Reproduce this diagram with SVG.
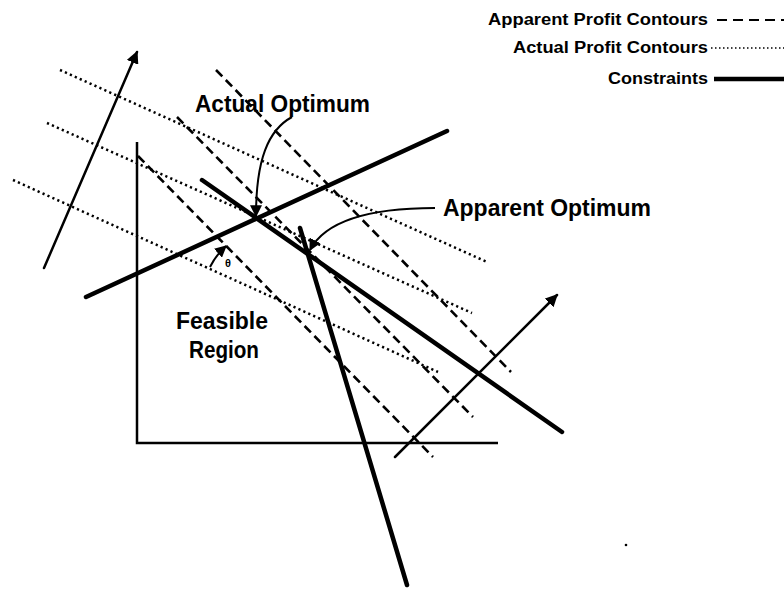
<svg xmlns="http://www.w3.org/2000/svg" width="784" height="589" viewBox="0 0 784 589">
<defs>
<style>
.thick{stroke:#000;stroke-width:4.5;stroke-linecap:round;fill:none}
.axis{stroke:#000;stroke-width:2.5;fill:none}
.arrow{stroke:#000;stroke-width:2.5;stroke-linecap:round;fill:none}
.curve{stroke:#000;stroke-width:2;fill:none}
.dash{stroke:#000;stroke-width:2.6;stroke-dasharray:9 5;fill:none}
.dot{stroke:#000;stroke-width:2.5;stroke-dasharray:2.2 3.2;fill:none}
.lbl{font-family:"Liberation Sans",Arial,sans-serif;font-weight:bold;fill:#000}
</style>
<marker id="ah" viewBox="0 0 10 10" refX="9" refY="5" markerWidth="5" markerHeight="5" orient="auto" markerUnits="strokeWidth">
<path d="M0,0 L10,5 L0,10 z" fill="#000"/>
</marker>
<marker id="ah2" viewBox="0 0 10 10" refX="9" refY="5" markerWidth="6" markerHeight="6" orient="auto" markerUnits="strokeWidth">
<path d="M0,0 L10,5 L0,10 z" fill="#000"/>
</marker>
</defs>
<rect width="784" height="589" fill="#fff"/>

<g id="legend">
<text class="lbl" x="708" y="25" font-size="16" text-anchor="end" textLength="220" lengthAdjust="spacingAndGlyphs">Apparent Profit Contours</text>
<line class="dash" x1="717" y1="20" x2="784" y2="20" style="stroke-dasharray:10 6;stroke-width:2"/>
<text class="lbl" x="708" y="53" font-size="16" text-anchor="end" textLength="195" lengthAdjust="spacingAndGlyphs">Actual Profit Contours</text>
<line class="dot" x1="711" y1="48" x2="784" y2="48" style="stroke-width:1.6;stroke-dasharray:1.5 2.5"/>
<text class="lbl" x="708" y="84" font-size="16" text-anchor="end" textLength="100" lengthAdjust="spacingAndGlyphs">Constraints</text>
<line class="thick" x1="714" y1="79" x2="784" y2="79" style="stroke-linecap:butt"/>
</g>

<g id="connectors">
<line class="dot" x1="60" y1="70" x2="487" y2="262"/>
<line class="dot" x1="47" y1="123" x2="472" y2="313"/>
<line class="dot" x1="13" y1="180" x2="438" y2="372"/>
<line class="dash" x1="216" y1="70" x2="511" y2="372"/>
<line class="dash" x1="177" y1="117" x2="473" y2="417"/>
<line class="dash" x1="138" y1="156" x2="433" y2="457"/>
<polyline class="axis" points="137,142 137,443 498,443"/>
<line class="thick" x1="86" y1="297" x2="447" y2="131"/>
<line class="thick" x1="202" y1="180" x2="562" y2="432"/>
<line class="thick" x1="300" y1="228" x2="407" y2="585"/>
<line class="arrow" x1="44" y1="268" x2="137" y2="52" marker-end="url(#ah)"/>
<line class="arrow" x1="395" y1="457" x2="557" y2="295" marker-end="url(#ah)"/>
<path class="curve" d="M292,117 C268,130 256,160 256,216" marker-end="url(#ah2)"/>
<path class="curve" d="M435,208 C395,208 330,212 310,250" marker-end="url(#ah2)"/>
<path class="curve" d="M210,267 A70,70 0 0 1 226,246" marker-end="url(#ah2)"/>
<circle cx="626" cy="545" r="1.3" fill="#000"/>
</g>

<g id="actual-optimum">
<text class="lbl" x="195" y="112" font-size="23" textLength="175" lengthAdjust="spacingAndGlyphs">Actual Optimum</text>
</g>
<g id="apparent-optimum">
<text class="lbl" x="443" y="216" font-size="23" textLength="208" lengthAdjust="spacingAndGlyphs">Apparent Optimum</text>
</g>
<g id="feasible-region">
<text class="lbl" x="222" y="329" font-size="23" text-anchor="middle" textLength="92" lengthAdjust="spacingAndGlyphs">Feasible</text>
<text class="lbl" x="224" y="358" font-size="23" text-anchor="middle" textLength="70" lengthAdjust="spacingAndGlyphs">Region</text>
</g>
<g id="theta">
<text class="lbl" x="228" y="267" font-size="11" text-anchor="middle">θ</text>
</g>
</svg>
